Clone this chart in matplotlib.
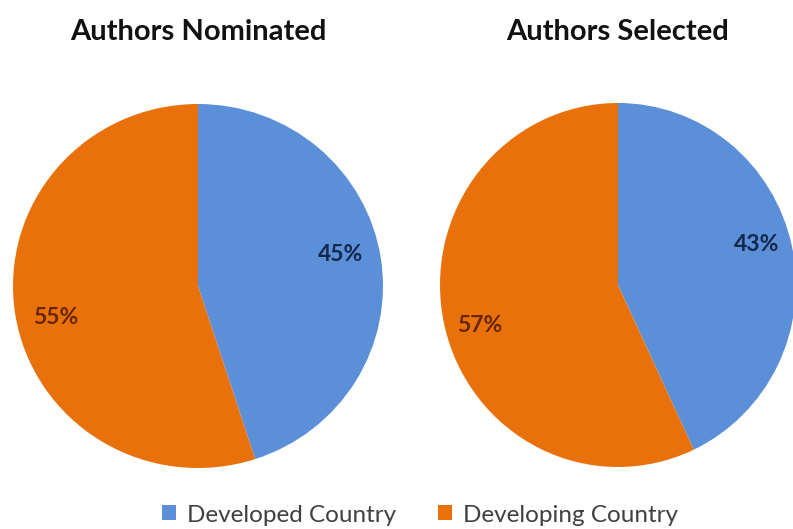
import numpy as np
import matplotlib
matplotlib.use("Agg")
import matplotlib.pyplot as plt
from matplotlib.patches import Patch

plt.rcParams["font.family"] = ["Lato", "DejaVu Sans"]

categories = ["Developed Country", "Developing Country"]
nominated = [45, 55]
selected = [43, 57]
titles = ["Authors Nominated", "Authors Selected"]

BLUE = "#5B8FD8"
ORANGE = "#E8710C"
colors = [BLUE, ORANGE]
label_colors = ["#14284B", "#6A2600"]

W, H = 793, 529
fig = plt.figure(figsize=(W / 100, H / 100), dpi=100)


def pie_axes(cx, cy, rx, ry):
    # axes in pixel terms, converted to figure fractions
    return fig.add_axes([(cx - rx) / W, 1 - (cy + ry) / H, 2 * rx / W, 2 * ry / H])


specs = [
    (198, 286, 185, 182, nominated, 0.79),
    (618, 285, 178, 182, selected, 0.81),
]

for (cx, cy, rx, ry, vals, pd), title in zip(specs, titles):
    ax = pie_axes(cx, cy, rx, ry)
    wedges, _ = ax.pie(
        vals, colors=colors, startangle=90, counterclock=False,
        wedgeprops=dict(linewidth=0),
    )
    # percent labels, nudged a few degrees like the original's placement
    for w, v, c in zip(wedges, vals, label_colors):
        ang = np.deg2rad((w.theta1 + w.theta2) / 2 + 3.5)
        ax.text(pd * np.cos(ang), pd * np.sin(ang), f"{v}%", ha="center",
                va="center", fontsize=16.5, fontweight="bold", color=c)
    ax.set_aspect("auto")
    ax.set_xlim(-1, 1)
    ax.set_ylim(-1, 1)
    ax.axis("off")
    fig.text(cx / W, 1 - 40 / H, title, ha="center", va="baseline",
             fontsize=21, fontweight="bold", color="#111111")

handles = [Patch(facecolor=c, edgecolor="none") for c in colors]
fig.legend(handles, categories, loc="center", bbox_to_anchor=(420 / W, 1 - 515 / H),
           ncol=2, frameon=False, fontsize=17.5, handlelength=0.57, handleheight=0.57,
           handletextpad=0.45, columnspacing=1.7, borderpad=0, labelcolor="#404040")

fig.savefig("out.png", dpi=100)
